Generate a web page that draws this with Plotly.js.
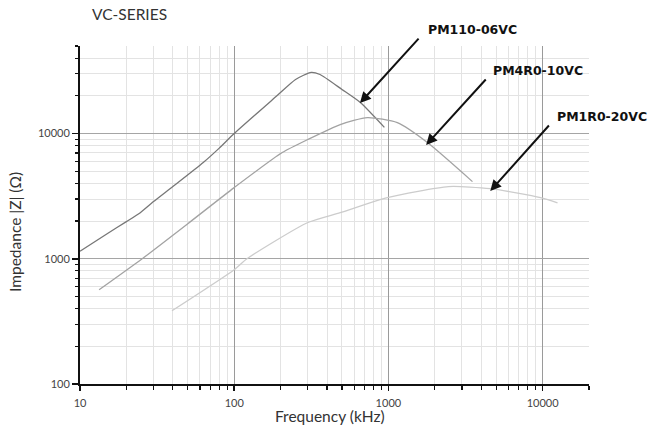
<!DOCTYPE html>
<html><head><meta charset="utf-8">
<script src="https://cdn.plot.ly/plotly-3.0.1.min.js"></script>
<style>html,body{margin:0;padding:0;background:#fff}</style>
</head><body><div id="chart" style="width:651px;height:442px"></div>
<script>
// Frequency (kHz) and impedance (Ohm)
const pm110Freq = [10, 15, 20, 24.6, 30, 40, 63, 80, 100, 190, 250, 316, 360, 500, 658, 942];
const pm110Z    = [1150, 1585, 1980, 2335, 2860, 3770, 5870, 7650, 10000, 20100, 27000, 30800, 29600, 22500, 17700, 11200];
const pm4r0Freq = [13.3, 25.3, 50, 100, 205, 300, 487, 731, 1143, 1790, 3510];
const pm4r0Z    = [565, 1000, 1905, 3700, 7050, 8960, 11800, 13400, 12200, 8470, 4130];
const pm1r0Freq = [39.5, 100, 121, 298, 487, 986, 2455, 4590, 9700, 12500];
const pm1r0Z    = [384, 817, 1000, 1940, 2335, 3077, 3770, 3630, 3077, 2800];
const seriesNames = ['PM110-06VC', 'PM4R0-10VC', 'PM1R0-20VC'];
const xTickVals = [10, 100, 1000, 10000];
const xTickText = ['10', '100', '1000', '10000'];
const yTickVals = [100, 1000, 10000];
const yTickText = ['100', '1000', '10000'];

function minorVals(lo, hi) {
  const out = [];
  for (let d = lo; d < hi; d *= 10) for (let m = 2; m <= 9; m++) if (d * m <= hi) out.push(d * m);
  return out;
}

const traces = [
  {x: pm110Freq, y: pm110Z, name: seriesNames[0], mode: 'lines', line: {color: '#777777', width: 1.3, shape: 'spline', smoothing: 0.6}},
  {x: pm4r0Freq, y: pm4r0Z, name: seriesNames[1], mode: 'lines', line: {color: '#a3a3a3', width: 1.3, shape: 'spline', smoothing: 0.6}},
  {x: pm1r0Freq, y: pm1r0Z, name: seriesNames[2], mode: 'lines', line: {color: '#cccccc', width: 1.3, shape: 'spline', smoothing: 0.6}}
];

const labelFont = {family: 'DejaVu Sans, sans-serif', size: 12.5, color: '#111'};
const tickFont = {family: 'Lato, sans-serif', size: 11, color: '#444'};
const titleFont = {family: 'Lato, sans-serif', size: 15.5, color: '#333'};

function arrow(px, py, ax, ay) {
  return {xref: 'paper', yref: 'paper', x: px, y: py, ax: ax, ay: ay, text: '', showarrow: true,
          arrowhead: 2, arrowsize: 1.1, arrowwidth: 2, arrowcolor: '#111'};
}
function label(px, py, txt) {
  return {xref: 'paper', yref: 'paper', x: px, y: py, text: '<b>' + txt + '</b>', showarrow: false,
          xanchor: 'left', yanchor: 'middle', font: labelFont};
}

const layout = {
  width: 651, height: 442,
  margin: {l: 80, r: 62, t: 46, b: 58},
  paper_bgcolor: '#fff', plot_bgcolor: '#fff',
  showlegend: false,
  title: {text: 'VC-SERIES', x: 92 / 651, xanchor: 'left', y: 1 - 15 / 442, yanchor: 'middle',
          font: {family: 'Lato, sans-serif', size: 15.5, color: '#333'}},
  xaxis: {
    type: 'log', range: [1, Math.log10(20000)],
    tickmode: 'array', tickvals: xTickVals, ticktext: xTickText,
    ticks: 'outside', ticklen: 5, tickwidth: 1.5, tickcolor: '#111', ticklabelstandoff: 3,
    showline: true, linecolor: '#111', linewidth: 2,
    showgrid: true, gridcolor: '#9a9a9a', gridwidth: 1,
    zeroline: false, tickfont: tickFont,
    minor: {tickmode: 'array', tickvals: minorVals(10, 20000), ticks: 'outside', ticklen: 3.5, tickcolor: '#111', tickwidth: 1.2,
            showgrid: true, gridcolor: '#e3e3e3', gridwidth: 1}
  },
  yaxis: {
    type: 'log', range: [2, Math.log10(50000)],
    tickmode: 'array', tickvals: yTickVals, ticktext: yTickText,
    ticks: 'outside', ticklen: 6, tickwidth: 1.5, tickcolor: '#111',
    showline: true, linecolor: '#111', linewidth: 2,
    showgrid: true, gridcolor: '#a5a5a5', gridwidth: 1.3,
    zeroline: false, tickfont: tickFont,
    minor: {tickmode: 'array', tickvals: minorVals(100, 50000), ticks: 'outside', ticklen: 3.5, tickcolor: '#111', tickwidth: 1.2,
            showgrid: true, gridcolor: '#e3e3e3', gridwidth: 1}
  },
  annotations: [
    {xref: 'paper', yref: 'paper', x: (330 - 80) / 509, y: (384 - 416) / 338, text: 'Frequency (kHz)', showarrow: false,
     xanchor: 'center', yanchor: 'middle', font: titleFont},
    {xref: 'paper', yref: 'paper', x: (15 - 80) / 509, y: (384 - 232) / 338, text: 'Impedance |Z| (Ω)', showarrow: false,
     textangle: -90, xanchor: 'center', yanchor: 'middle', font: titleFont},
    arrow(0.550, 0.831, 60, -66), label((426 - 80) / 509, 1 + 16 / 338, seriesNames[0]),
    arrow(0.680, 0.707, 61, -67), label((491 - 80) / 509, (384 - 70) / 338, seriesNames[1]),
    arrow(0.806, 0.571, 60, -67), label((555 - 80) / 509, (384 - 117) / 338, seriesNames[2])
  ]
};

Plotly.newPlot('chart', traces, layout, {displayModeBar: false, staticPlot: true});
</script>
</body></html>
